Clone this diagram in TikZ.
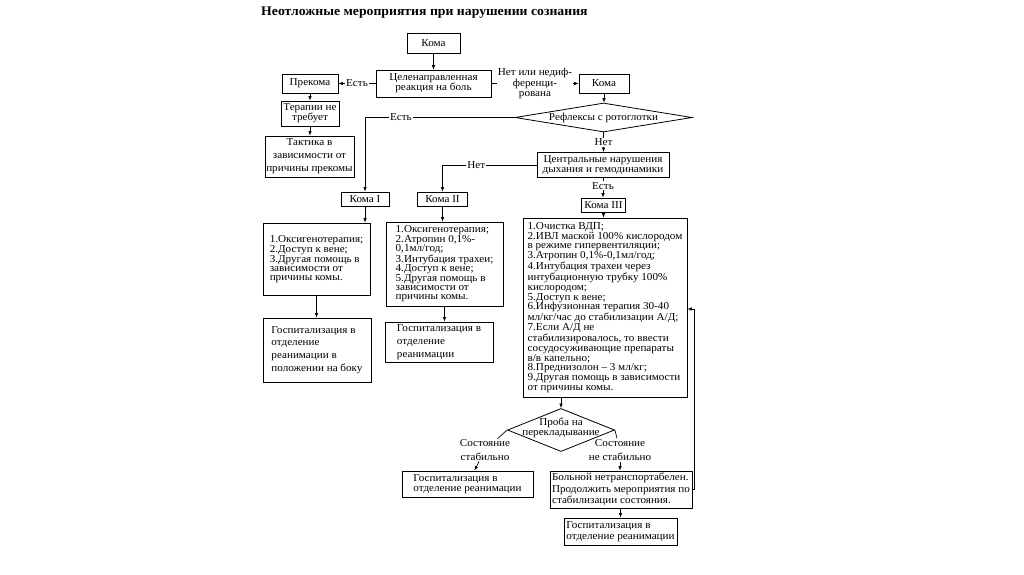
\documentclass[tikz,border=0pt]{standalone}
\usepackage{fontspec}
\setmainfont{Liberation Serif}[FakeStretch=1.05]
\usetikzlibrary{shapes.geometric,arrows.meta,calc}
\newcommand{\fsz}[2]{\fontsize{#1}{#2}\selectfont}
\begin{document}
\begin{tikzpicture}[x=1pt,y=-1pt,
  box/.style={draw, line width=0.8pt, inner sep=0pt, font=\fsz{10.6}{10}},
  lbl/.style={fill=white, inner sep=1pt, font=\fsz{10.6}{10}, align=center},
  arr/.style={line width=0.7pt, -{Latex[length=4.5pt,width=3.5pt]}},
  ln/.style={line width=0.7pt},
  plain/.style={font=\fsz{10.6}{10}, align=center, inner sep=1pt}
]
\useasboundingbox (0,0) rectangle (1024,574);
\fill[white] (0,0) rectangle (1024,574);

\node[anchor=west, inner sep=0, font=\bfseries\fsz{13.1}{15}] (title) at (261,13) {Неотложные мероприятия при нарушении сознания};

\node[box, minimum width=53, minimum height=20] (koma) at (433.5,43.5) {Кома};
\node[box, minimum width=115, minimum height=27, align=center] (react) at (433.5,83.5) {Целенаправленная\\реакция на боль};
\node[box, minimum width=56, minimum height=19] (prekoma) at (310,83.5) {Прекома};
\node[box, minimum width=50, minimum height=19] (komaR) at (604,83.5) {Кома};
\node[box, diamond, shape aspect=6, minimum width=177, minimum height=29] (refl) at (603.5,117.5) {};
\node[plain] (refltext) at (refl) {Рефлексы с ротоглотки};
\node[box, minimum width=58, minimum height=25, align=center] (ter) at (310,113.5) {Терапии не\\требует};
\node[box, minimum width=89, minimum height=41, align=center, font=\fsz{10.6}{13}] (takt) at (309.5,156.5) {Тактика в\\зависимости от\\причины прекомы};
\node[box, minimum width=132, minimum height=25, align=center, font=\fsz{10.6}{9.5}] (central) at (603,165) {Центральные нарушения\\дыхания и гемодинамики};
\node[box, minimum width=48, minimum height=14] (k1) at (365,199) {Кома I};
\node[box, minimum width=50, minimum height=14] (k2) at (442.5,199) {Кома II};
\node[box, minimum width=44, minimum height=14] (k3) at (603.5,205) {Кома III};

\node[box, minimum width=107, minimum height=72, align=left, font=\fsz{10.6}{9}] (l1) at (316.5,259) {1.Оксигенотерапия;\\2.Доступ к вене;\\3.Другая помощь в\\зависимости от\\причины комы.};
\node[box, minimum width=117, minimum height=84, align=left, font=\fsz{10.6}{9.4}] (l2) at (444.5,264) {1.Оксигенотерапия;\\2.Атропин 0,1\%-\\0,1мл/год;\\3.Интубация трахеи;\\4.Доступ к вене;\\5.Другая помощь в\\зависимости от\\причины комы.};
\node[box, minimum width=108, minimum height=64, align=left, font=\fsz{10.6}{12.7}] (g1) at (317,350) {Госпитализация в\\отделение\\реанимации в\\положении на боку};
\node[box, minimum width=108, minimum height=40, align=left, font=\fsz{10.6}{13}] (g2) at (439,342) {Госпитализация в\\отделение\\реанимации};

\node[box, minimum width=164, minimum height=179, align=left, font=\fsz{10.6}{9.8}] (l3) at (605,307.5) {1.Очистка ВДП;\\2.ИВЛ маской 100\% кислородом\\в режиме гипервентиляции;\\3.Атропин 0,1\%-0,1мл/год;\\4.Интубация трахеи через\\интубационную трубку 100\%\\кислородом;\\5.Доступ к вене;\\6.Инфузионная терапия 30-40\\мл/кг/час до стабилизации А/Д;\\7.Если А/Д не\\стабилизировалось, то ввести\\сосудосуживающие препараты\\в/в капельно;\\8.Преднизолон – 3 мл/кг;\\9.Другая помощь в зависимости\\от причины комы.};

\node[draw, line width=0.8pt, diamond, shape aspect=2.5, inner sep=0pt, minimum width=107, minimum height=43] (proba) at (561,430) {};
\node[plain] (probatext) at (561,428) {Проба на\\перекладывание};
\node[plain, font=\fsz{10.6}{13.5}] (st1) at (485,450) {Состояние\\стабильно};
\node[plain, font=\fsz{10.6}{13.5}] (st2) at (620,450) {Состояние\\не стабильно};

\node[box, minimum width=131, minimum height=26, align=left, font=\fsz{10.6}{10.7}] (g3) at (467.5,484) {Госпитализация в\\отделение реанимации};
\node[box, minimum width=142, minimum height=37, align=left, font=\fsz{10.6}{11.7}] (ntr) at (621,489.5) {Больной нетранспортабелен.\\Продолжить мероприятия по\\стабилизации состояния.};
\node[box, minimum width=113, minimum height=27, align=left, font=\fsz{10.6}{11.5}] (g4) at (620.5,531.5) {Госпитализация в\\отделение реанимации};
\coordinate (fb) at (694,309);

\draw[arr] (koma) -- (react);
\draw[arr] (react) -- node[lbl]{Есть} (prekoma);
\draw[arr] (react) -- node[lbl, font=\fsz{10.6}{9.5}]{Нет или недиф-\\ференци-\\рована} (komaR);
\draw[arr] (prekoma) -- (prekoma |- ter.north);
\draw[arr] (ter.south) -- (ter.south |- takt.north);
\draw[arr] (komaR.south) -- (komaR.south |- refl.north);
\draw[arr] (refl.west) -| node[lbl, pos=0.38]{Есть} (k1.north);
\draw[arr] (refl.south) -- node[lbl]{Нет} (refl.south |- central.north);
\draw[arr] (central.west) -| node[lbl, pos=0.32]{Нет} (k2.north);
\draw[arr] (central.south) -- node[lbl, pos=0.4]{Есть} (central.south |- k3.north);
\draw[arr] (k1.south) -- (k1.south |- l1.north);
\draw[arr] (k2.south) -- (k2.south |- l2.north);
\draw[arr] (k3.south) -- (k3.south |- l3.north);
\draw[arr] (l1.south) -- (l1.south |- g1.north);
\draw[arr] (l2.south) -- (l2.south |- g2.north);
\draw[arr] (proba.north |- l3.south) -- (proba.north);
\draw[ln] (proba.west) -- (st1);
\draw[ln] (proba.east) -- (st2);
\draw[arr] (st1) -- (g3);
\draw[arr] (st2.south) -- (st2.south |- ntr.north);
\draw[arr] (g4.north |- ntr.south) -- (g4.north);
\draw[arr] (ntr.east) -| (fb) -- (l3.east |- fb);
\end{tikzpicture}
\end{document}
